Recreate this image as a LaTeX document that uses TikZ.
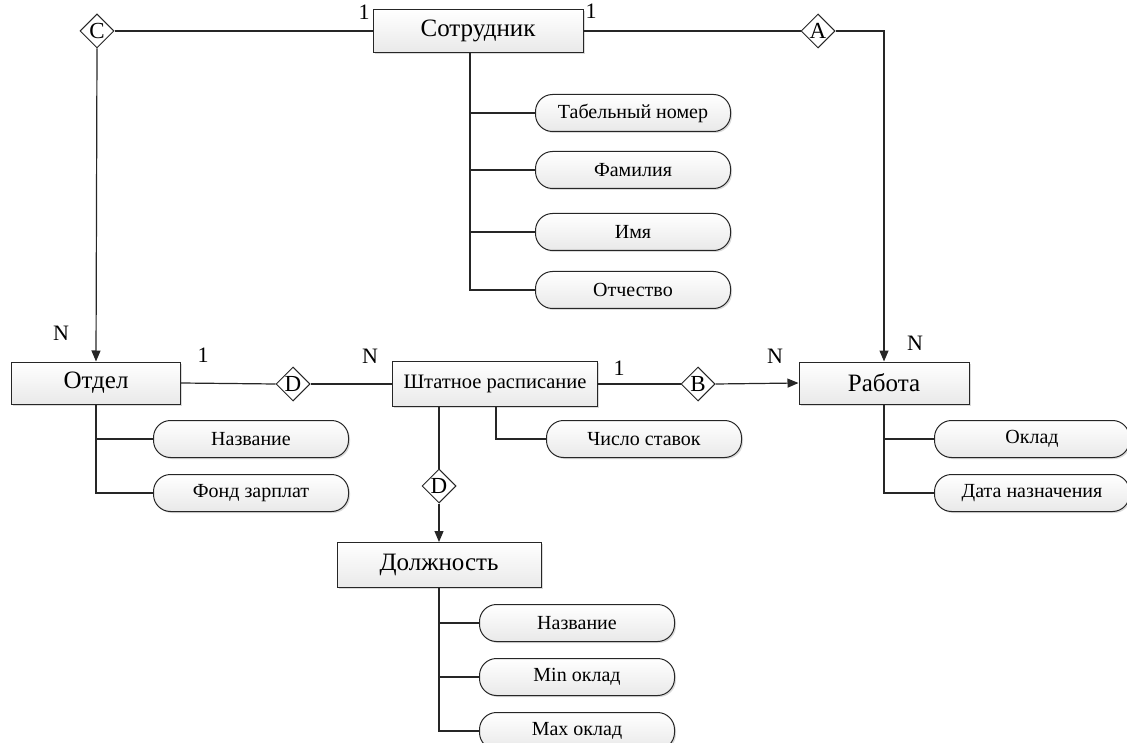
\documentclass[tikz,border=0pt]{standalone}
\usepackage{fontspec}
\setmainfont{Liberation Serif}
\definecolor{lineDark}{HTML}{262626}
\definecolor{boxTop}{HTML}{FFFFFF}
\definecolor{boxBottom}{HTML}{E9E9E9}
\definecolor{shadowGray}{HTML}{B5B5B5}
\usepackage{tikz}
\usetikzlibrary{calc, positioning, shapes.geometric, arrows.meta, shadows}
\usepackage{xcolor}

\tikzset{
  entityBox/.style={draw=lineDark, line width=1pt, top color=boxTop, bottom color=boxBottom,
    drop shadow={shadow xshift=1.5pt, shadow yshift=-1.5pt, fill=shadowGray},
    minimum height=43pt, inner sep=2pt, font=\fontsize{25}{29}\selectfont},
  attrBox/.style={draw=lineDark, line width=1pt, rounded corners=17pt, top color=boxTop, bottom color=boxBottom,
    drop shadow={shadow xshift=1.5pt, shadow yshift=-1.5pt, fill=shadowGray},
    minimum width=195pt, minimum height=37pt, inner sep=2pt, font=\fontsize{20}{24}\selectfont},
  relDiamond/.style={diamond, draw=lineDark, line width=1pt, fill=white, aspect=1,
    minimum size=34pt, inner sep=-1pt, font=\fontsize{23}{26}\selectfont},
  cardLabel/.style={inner sep=0pt, font=\fontsize{22}{26}\selectfont},
  link/.style={draw=lineDark, line width=1.2pt},
  linkArrow/.style={link, -{Triangle[length=11pt, width=9pt]}}
}

\begin{document}
\begin{tikzpicture}[x=1pt, y=-1pt]
  \useasboundingbox (0,0) rectangle (1127,743);

  % entities
  \node[entityBox, minimum width=210pt] (emp) at (478,31) {Сотрудник};
  \node[entityBox, minimum width=169pt, minimum height=42pt] (dept) at (96,383) {Отдел};
  \node[entityBox, minimum width=205pt, minimum height=45pt, font=\fontsize{20.5}{24}\selectfont] (staff) at (495,384) {Штатное расписание};
  \node[entityBox, minimum width=170pt, minimum height=42pt] (job) at (884,383) {Работа};
  \node[entityBox, minimum width=204pt, minimum height=45pt] (post) at (439,565) {Должность};

  % relationships
  \node[relDiamond] (relC) at (97,31) {C};
  \node[relDiamond] (relA) at (818,31) {A};
  \node[relDiamond] (relD) at (293,384) {D};
  \node[relDiamond] (relB) at (698,384) {B};
  \node[relDiamond] (relD2) at (439,486) {D};

  % attributes
  \node[attrBox] (empNum) at (633,113) {Табельный номер};
  \node[attrBox] (empSurname) at (633,170) {Фамилия};
  \node[attrBox] (empName) at (633,232) {Имя};
  \node[attrBox] (empPatr) at (633,290) {Отчество};
  \node[attrBox] (deptName) at (251,439) {Название};
  \node[attrBox] (deptFund) at (251,493) {Фонд зарплат};
  \node[attrBox] (staffRate) at (644,439) {Число ставок};
  \node[attrBox] (jobSalary) at (1032,439) {Оклад};
  \node[attrBox] (jobDate) at (1032,493) {Дата назначения};
  \node[attrBox] (postName) at (577,623) {Название};
  \node[attrBox] (postMin) at (577,677) {Min оклад};
  \node[attrBox] (postMax) at (577,731) {Max оклад};

  % cardinalities
  \node[cardLabel] (cEmpL) at (364,12) {1};
  \node[cardLabel] (cEmpR) at (591,11) {1};
  \node[cardLabel] (cDeptN) at (61,333) {N};
  \node[cardLabel] (cDept1) at (203,355) {1};
  \node[cardLabel] (cStaffN) at (370,356) {N};
  \node[cardLabel] (cStaff1) at (619,368) {1};
  \node[cardLabel] (cJobN) at (775,356) {N};
  \node[cardLabel] (cJobTop) at (915,343) {N};

  % connectors
  \coordinate (empTrunk) at (470,53);
  \coordinate (staffTrunk) at (496,407);
  \draw[link] (emp.west) -- (relC.east);
  \draw[linkArrow] (relC.south) -- (dept.north);
  \draw[link] (emp.east) -- (relA.west);
  \draw[linkArrow] (relA.east) -| (job.north);
  \draw[link] (dept.east) -- (relD.west);
  \draw[link] (relD.east) -- (staff.west);
  \draw[link] (staff.east) -- (relB.west);
  \draw[linkArrow] (relB.east) -- (job.west);
  \draw[link] (staff.south -| relD2) -- (relD2.north);
  \draw[linkArrow] (relD2.south) -- (post.north);

  \foreach \a in {empNum, empSurname, empName, empPatr}
    \draw[link] (empTrunk) |- (\a.west);
  \foreach \a in {deptName, deptFund}
    \draw[link] (dept.south) |- (\a.west);
  \draw[link] (staffTrunk) |- (staffRate.west);
  \foreach \a in {jobSalary, jobDate}
    \draw[link] (job.south) |- (\a.west);
  \foreach \a in {postName, postMin, postMax}
    \draw[link] (post.south) |- (\a.west);
\end{tikzpicture}
\end{document}
